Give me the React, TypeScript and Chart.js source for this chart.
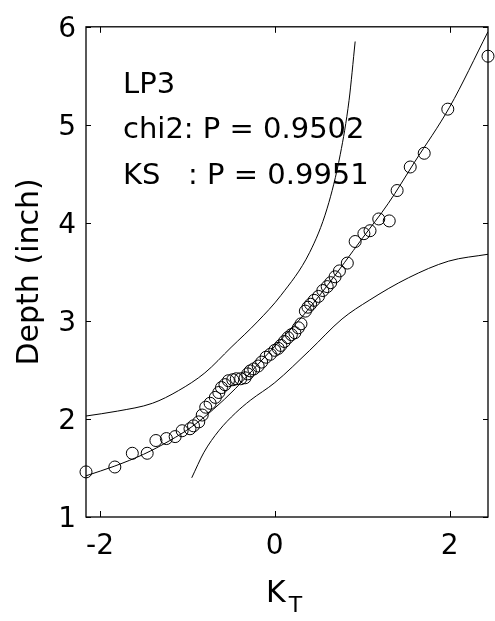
import React, { useEffect, useRef } from "react";
import { Chart, registerables } from "chart.js";

Chart.register(...registerables);

// Observed data: frequency factor K_T vs depth (inch)
const kT = [
  -2.16, -1.83, -1.63, -1.46, -1.36, -1.24, -1.14, -1.06, -0.97, -0.93,
  -0.87, -0.83, -0.79, -0.74, -0.68, -0.64, -0.61, -0.57, -0.53, -0.48,
  -0.44, -0.39, -0.34, -0.31, -0.28, -0.24, -0.19, -0.15, -0.1, -0.05,
  0.0, 0.04, 0.07, 0.11, 0.15, 0.19, 0.23, 0.27, 0.3, 0.35,
  0.38, 0.41, 0.45, 0.5, 0.55, 0.6, 0.64, 0.69, 0.74, 0.83,
  0.92, 1.02, 1.09, 1.19, 1.31, 1.4, 1.55, 1.71, 1.98, 2.44,
];
const depth = [
  1.46, 1.51, 1.65, 1.65, 1.78, 1.8, 1.82, 1.88, 1.9, 1.93,
  1.97, 2.04, 2.12, 2.16, 2.22, 2.27, 2.32, 2.35, 2.39, 2.4,
  2.41, 2.41, 2.42, 2.46, 2.49, 2.51, 2.54, 2.58, 2.63, 2.66,
  2.7, 2.72, 2.75, 2.79, 2.83, 2.86, 2.88, 2.93, 2.97, 3.1,
  3.14, 3.17, 3.21, 3.25, 3.31, 3.35, 3.39, 3.45, 3.51, 3.59,
  3.81, 3.89, 3.92, 4.04, 4.02, 4.33, 4.57, 4.71, 5.16, 5.7,
];

// Fitted LP3 curve
const fitK = [-2.16, -1.83, -1.5, -1.2, -0.95, -0.7, -0.45, -0.2, 0.05, 0.3, 0.6, 1.0, 1.3, 1.6, 2.0, 2.44];
const fitDepth = [1.42, 1.52, 1.64, 1.78, 1.92, 2.1, 2.31, 2.55, 2.79, 3.03, 3.36, 3.84, 4.2, 4.62, 5.18, 5.95];

// Upper confidence limit
const upperK = [-2.16, -1.8, -1.4, -1.1, -0.8, -0.5, -0.2, 0.07, 0.4, 0.6, 0.75, 0.85, 0.92];
const upperDepth = [2.03, 2.08, 2.16, 2.29, 2.47, 2.73, 2.99, 3.26, 3.7, 4.15, 4.7, 5.25, 5.85];

// Lower confidence limit
const lowerK = [-0.95, -0.81, -0.64, -0.45, -0.28, 0.0, 0.4, 0.77, 1.08, 1.53, 1.99, 2.44];
const lowerDepth = [1.4, 1.66, 1.88, 2.06, 2.19, 2.37, 2.7, 3.02, 3.21, 3.44, 3.61, 3.68];

const xTickValues = [-2, 0, 2];
const yTickValues = [1, 2, 3, 4, 5, 6];
const xMin = -2.16;
const xMax = 2.44;
const yMin = 1;
const yMax = 6;

const annotationLines = ["LP3", "chi2: P = 0.9502", "KS   : P = 0.9951"];
const yTitle = "Depth (inch)";
const xTitleMain = "K";
const xTitleSub = "T";

const FONT = '"DejaVu Sans", "Liberation Sans", Arial, sans-serif';

const toPoints = (xs: number[], ys: number[]) => xs.map((x, i) => ({ x, y: ys[i] }));

const framePlugin = {
  id: "framePlugin",
  beforeDraw(chart: any) {
    const { ctx, width, height } = chart;
    ctx.save();
    ctx.fillStyle = "#ffffff";
    ctx.fillRect(0, 0, width, height);
    ctx.restore();
  },
  afterDraw(chart: any) {
    const { ctx, chartArea: a, scales } = chart;
    const x = scales.x;
    const y = scales.y;
    ctx.save();
    ctx.strokeStyle = "#000";
    ctx.lineWidth = 1.3;
    ctx.strokeRect(a.left, a.top, a.right - a.left, a.bottom - a.top);
    ctx.lineWidth = 1;
    ctx.beginPath();
    for (const v of xTickValues) {
      const px = Math.round(x.getPixelForValue(v)) + 0.5;
      ctx.moveTo(px, a.bottom);
      ctx.lineTo(px, a.bottom - 6);
      ctx.moveTo(px, a.top);
      ctx.lineTo(px, a.top + 6);
    }
    for (const v of yTickValues) {
      const py = Math.round(y.getPixelForValue(v)) + 0.5;
      ctx.moveTo(a.left, py);
      ctx.lineTo(a.left + 5, py);
      ctx.moveTo(a.right, py);
      ctx.lineTo(a.right - 5, py);
    }
    ctx.stroke();

    // annotation text
    ctx.fillStyle = "#000";
    ctx.font = `29px ${FONT}`;
    ctx.textAlign = "left";
    ctx.textBaseline = "alphabetic";
    annotationLines.forEach((t, i) => {
      ctx.fillText(t, a.left + 37, a.top + 66 + i * 45.5);
    });

    // x axis title K_T
    const cx = (a.left + a.right) / 2;
    ctx.font = `30px ${FONT}`;
    const kLeft = cx - 21;
    ctx.fillText(xTitleMain, kLeft, 602);
    const kw = ctx.measureText(xTitleMain).width;
    ctx.font = `22px ${FONT}`;
    ctx.fillText(xTitleSub, kLeft + kw + 3, 612);
    ctx.restore();
  },
};

export default function App() {
  const canvasRef = useRef<HTMLCanvasElement | null>(null);

  useEffect(() => {
    const canvas = canvasRef.current;
    if (!canvas) return;
    const tickFont = { family: FONT, size: 28 };
    const lineStyle = {
      showLine: true,
      pointRadius: 0,
      borderColor: "#000",
      borderWidth: 1,
      cubicInterpolationMode: "monotone",
    };
    const chart = new Chart(canvas, {
      type: "scatter",
      data: {
        datasets: [
          {
            label: "Observed",
            data: toPoints(kT, depth),
            showLine: false,
            pointRadius: 6,
            pointHoverRadius: 6,
            pointBorderWidth: 1,
            pointBackgroundColor: "rgba(0,0,0,0)",
            pointBorderColor: "#000",
            borderColor: "#000",
            clip: false,
          } as any,
          { label: "LP3 fit", data: toPoints(fitK, fitDepth), ...lineStyle } as any,
          { label: "Upper limit", data: toPoints(upperK, upperDepth), ...lineStyle } as any,
          { label: "Lower limit", data: toPoints(lowerK, lowerDepth), ...lineStyle } as any,
        ],
      },
      options: {
        responsive: false,
        animation: false,
        devicePixelRatio: 1,
        layout: { padding: { top: 25, right: 3, left: 0, bottom: 0 } },
        plugins: {
          legend: { display: false },
          tooltip: { enabled: false },
        },
        scales: {
          x: {
            type: "linear",
            min: xMin,
            max: xMax,
            grid: { display: false, drawTicks: false },
            border: { display: false },
            afterBuildTicks: (s: any) => {
              s.ticks = xTickValues.map((v) => ({ value: v }));
            },
            afterFit: (s: any) => {
              s.height = 104;
            },
            ticks: {
              font: tickFont,
              color: "#000",
              padding: 13,
              maxRotation: 0,
              autoSkip: false,
            },
          },
          y: {
            type: "linear",
            min: yMin,
            max: yMax,
            grid: { display: false, drawTicks: false },
            border: { display: false },
            afterBuildTicks: (s: any) => {
              s.ticks = yTickValues.map((v) => ({ value: v }));
            },
            afterFit: (s: any) => {
              s.width = 86;
            },
            title: {
              display: true,
              text: yTitle,
              color: "#000",
              font: { family: FONT, size: 30 },
              padding: { top: 12, bottom: 0 },
            },
            ticks: {
              font: tickFont,
              color: "#000",
              padding: 10,
              labelOffset: 3,
              autoSkip: false,
            },
          },
        },
      } as any,
      plugins: [framePlugin],
    });
    return () => chart.destroy();
  }, []);

  return (
    <div style={{ position: "absolute", left: 0, top: 0, width: 495, height: 621, background: "#fff" }}>
      <canvas
        ref={canvasRef}
        width={495}
        height={621}
        style={{ display: "block", width: "495px", height: "621px" }}
      />
    </div>
  );
}
